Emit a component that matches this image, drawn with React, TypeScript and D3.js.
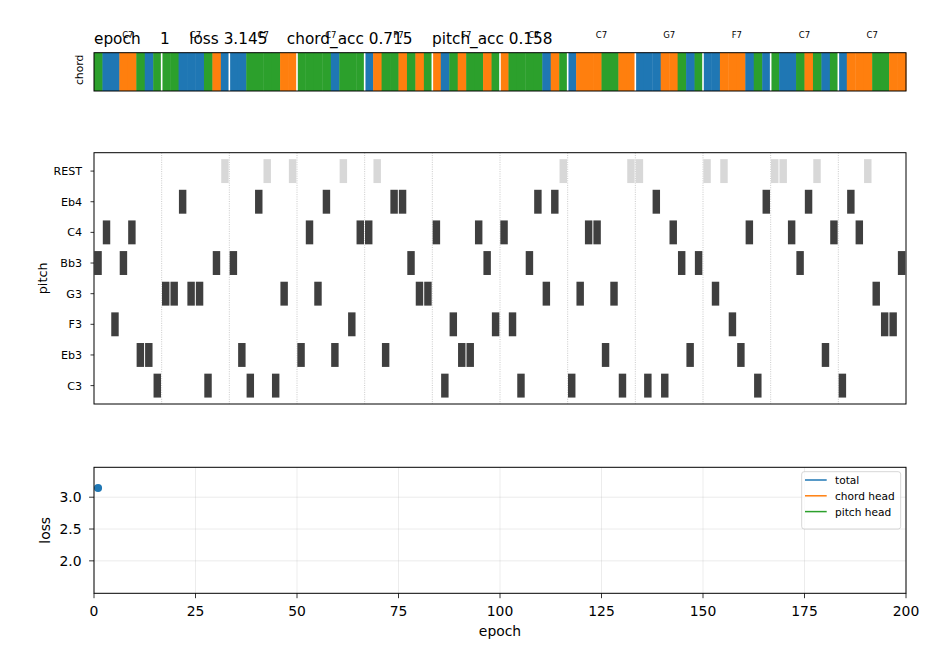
import React from "react";
import * as d3 from "d3";

// ---------- data ----------
const BAR_CHORDS = ["C7", "C7", "C7", "C7", "F7", "F7", "C7", "C7", "G7", "F7", "C7", "C7"];
const STEPS_PER_BAR = 8;
const CHORD_VOCAB = ["C7", "F7", "G7"];
const CHORD_COLORS = ["#1f77b4", "#ff7f0e", "#2ca02c"];

// predicted chord per step (96 steps)
const PRED_CHORDS: string[] = [
  "G7","C7","C7","F7","F7","G7","C7","G7",
  "G7","G7","C7","C7","C7","G7","F7","C7",
  "C7","C7","G7","G7","G7","G7","F7","F7",
  "G7","G7","G7","G7","C7","G7","G7","G7",
  "C7","F7","G7","G7","F7","G7","F7","G7",
  "F7","C7","G7","F7","G7","G7","F7","G7",
  "F7","G7","G7","G7","G7","C7","F7","G7",
  "C7","F7","F7","F7","G7","G7","F7","F7",
  "C7","C7","C7","F7","F7","G7","C7","G7",
  "C7","C7","F7","F7","F7","C7","G7","C7",
  "G7","C7","C7","G7","F7","G7","C7","G7",
  "C7","F7","F7","F7","G7","G7","F7","F7",
];

const PITCHES = ["C3", "Eb3", "F3", "G3", "Bb3", "C4", "Eb4", "REST"]; // bottom -> top

// predicted pitch per step (96 steps)
const PRED_PITCHES: string[] = [
  "Bb3","C4","F3","Bb3","C4","Eb3","Eb3","C3",
  "G3","G3","Eb4","G3","G3","C3","Bb3","REST",
  "Bb3","Eb3","C3","Eb4","REST","C3","G3","REST",
  "Eb3","C4","G3","Eb4","Eb3","REST","F3","C4",
  "C4","REST","Eb3","Eb4","Eb4","Bb3","G3","G3",
  "C4","C3","F3","Eb3","Eb3","C4","Bb3","F3",
  "C4","F3","C3","Bb3","Eb4","G3","Eb4","REST",
  "C3","G3","C4","C4","Eb3","G3","C3","REST",
  "REST","C3","Eb4","C3","C4","Bb3","Eb3","Bb3",
  "REST","G3","REST","F3","Eb3","C4","C3","Eb4",
  "REST","REST","C4","Bb3","Eb4","REST","Eb3","C4",
  "C3","Eb4","C4","REST","G3","F3","F3","Bb3",
];

const EPOCH = 1;
const LOSS = 3.145;
const CHORD_ACC = 0.715;
const PITCH_ACC = 0.158;

const EPOCHS = [1];
const TOTAL_LOSS = [3.145];
const CHORD_LOSS: number[] = [];
const PITCH_LOSS: number[] = [];
const LOSS_XTICKS = [0, 25, 50, 75, 100, 125, 150, 175, 200];
const LOSS_YTICKS = [2.0, 2.5, 3.0];

// ---------- layout ----------
const W = 934, H = 659;
const L = 94, R = 906;
const chordTop = 52.7, chordBot = 91;
const pianoTop = 152.7, pianoBot = 404;
const lossTop = 467.3, lossBot = 593.3;
const FONT = "DejaVu Sans";

export default function App() {
  const nSteps = PRED_CHORDS.length;
  const nBars = BAR_CHORDS.length;
  const xs = d3.scaleLinear().domain([0, nSteps]).range([L, R]);
  const yp = d3.scaleLinear().domain([-0.6, PITCHES.length - 1 + 0.6]).range([pianoBot, pianoTop]);
  const color = d3.scaleOrdinal<string, string>().domain(CHORD_VOCAB).range(CHORD_COLORS);
  const xl = d3.scaleLinear().domain([0, 200]).range([L, R]);
  const yl = d3.scaleLinear().domain([1.49, 3.47]).range([lossBot, lossTop]);
  const barIdx = d3.range(1, nBars);
  const stepW = xs(1) - xs(0);
  const noteH = yp(0) - yp(0.78);

  const lineGen = d3.line<number>().x((_, i) => xl(EPOCHS[i])).y((v) => yl(v));

  const title = `epoch ${String(EPOCH).padStart(4, " ")}    loss ${LOSS.toFixed(3)}    chord_acc ${CHORD_ACC.toFixed(3)}    pitch_acc ${PITCH_ACC.toFixed(3)}`;

  const legendItems = [
    { label: "total", color: "#1f77b4" },
    { label: "chord head", color: "#ff7f0e" },
    { label: "pitch head", color: "#2ca02c" },
  ];

  return (
    <svg width={W} height={H} style={{ position: "fixed", left: 0, top: 0, background: "#fff" }} fontFamily={FONT}>
      <rect x={0} y={0} width={W} height={H} fill="#fff" />
      {/* ---------- chord strip ---------- */}
      {PRED_CHORDS.map((c, i) => (
        <rect key={"c" + i} x={xs(i)} y={chordTop} width={stepW + 0.4} height={chordBot - chordTop} fill={color(c)} />
      ))}
      {barIdx.map((b) => (
        <line key={"cw" + b} x1={xs(b * STEPS_PER_BAR)} x2={xs(b * STEPS_PER_BAR)} y1={chordTop} y2={chordBot} stroke="#fff" strokeWidth={1.6} />
      ))}
      <rect x={L} y={chordTop} width={R - L} height={chordBot - chordTop} fill="none" stroke="#000" strokeWidth={1} />
      {BAR_CHORDS.map((c, b) => (
        <text key={"cl" + b} x={xs((b + 0.5) * STEPS_PER_BAR)} y={37.5} fontSize={8.5} textAnchor="middle" fill="#000">{c}</text>
      ))}
      <text x={L} y={44} fontSize={15.3} fill="#000" style={{ whiteSpace: "pre" }}>{title}</text>
      <text transform={`translate(83,${(chordTop + chordBot) / 2 - 2}) rotate(-90)`} fontSize={10.8} textAnchor="middle" fill="#000">chord</text>

      {/* ---------- piano roll ---------- */}
      {barIdx.map((b) => (
        <line key={"pv" + b} x1={xs(b * STEPS_PER_BAR)} x2={xs(b * STEPS_PER_BAR)} y1={pianoTop} y2={pianoBot} stroke="#bdbdbd" strokeWidth={0.8} strokeDasharray="1 1.3" />
      ))}
      {PRED_PITCHES.map((p, i) => {
        const r = PITCHES.indexOf(p);
        const isRest = p === "REST";
        return (
          <rect key={"n" + i} x={xs(i) + stepW * 0.04} y={yp(r) - noteH / 2} width={stepW * 0.88} height={noteH}
            fill={isRest ? "#d6d6d6" : "#3f3f3f"} opacity={isRest ? 0.95 : 1} />
        );
      })}
      <rect x={L} y={pianoTop} width={R - L} height={pianoBot - pianoTop} fill="none" stroke="#000" strokeWidth={1} />
      {PITCHES.map((p, r) => (
        <g key={"pt" + r}>
          <line x1={L - 3.5} x2={L} y1={yp(r)} y2={yp(r)} stroke="#000" strokeWidth={0.8} />
          <text x={L - 12} y={yp(r) + 4} fontSize={11.1} textAnchor="end" fill="#000">{p}</text>
        </g>
      ))}
      <text transform={`translate(47,${(pianoTop + pianoBot) / 2}) rotate(-90)`} fontSize={12.8} textAnchor="middle" fill="#000">pitch</text>

      {/* ---------- loss panel ---------- */}
      {LOSS_XTICKS.map((t) => (
        <line key={"gx" + t} x1={xl(t)} x2={xl(t)} y1={lossTop} y2={lossBot} stroke="#b0b0b0" strokeOpacity={0.3} strokeWidth={0.8} />
      ))}
      {LOSS_YTICKS.map((t) => (
        <line key={"gy" + t} x1={L} x2={R} y1={yl(t)} y2={yl(t)} stroke="#b0b0b0" strokeOpacity={0.3} strokeWidth={0.8} />
      ))}
      <path d={lineGen(TOTAL_LOSS) || ""} fill="none" stroke="#1f77b4" strokeWidth={1.5} />
      <path d={lineGen(CHORD_LOSS) || ""} fill="none" stroke="#ff7f0e" strokeWidth={1.5} />
      <path d={lineGen(PITCH_LOSS) || ""} fill="none" stroke="#2ca02c" strokeWidth={1.5} />
      {TOTAL_LOSS.map((v, i) => (
        <circle key={"pt" + i} cx={xl(EPOCHS[i])} cy={yl(v)} r={4} fill="#1f77b4" />
      ))}
      <rect x={L} y={lossTop} width={R - L} height={lossBot - lossTop} fill="none" stroke="#000" strokeWidth={1} />
      {LOSS_XTICKS.map((t) => (
        <g key={"xt" + t}>
          <line x1={xl(t)} x2={xl(t)} y1={lossBot} y2={lossBot + 4.9} stroke="#000" strokeWidth={0.8} />
          <text x={xl(t)} y={616} fontSize={13.9} textAnchor="middle" fill="#000">{t}</text>
        </g>
      ))}
      {LOSS_YTICKS.map((t) => (
        <g key={"yt" + t}>
          <line x1={L - 4.9} x2={L} y1={yl(t)} y2={yl(t)} stroke="#000" strokeWidth={0.8} />
          <text x={L - 12.5} y={yl(t) + 5} fontSize={13.9} textAnchor="end" fill="#000">{t.toFixed(1)}</text>
        </g>
      ))}
      <text x={(L + R) / 2} y={636} fontSize={13.9} textAnchor="middle" fill="#000">epoch</text>
      <text transform={`translate(49.5,${(lossTop + lossBot) / 2}) rotate(-90)`} fontSize={13.9} textAnchor="middle" fill="#000">loss</text>

      {/* legend */}
      <rect x={801.7} y={471.7} width={99} height={57.3} rx={2.5} fill="#fff" fillOpacity={0.8} stroke="#cccccc" strokeWidth={0.8} />
      {legendItems.map((it, i) => {
        const y = 480 + i * 15.8;
        return (
          <g key={"lg" + i}>
            <line x1={805} x2={826.7} y1={y} y2={y} stroke={it.color} strokeWidth={1.5} />
            <text x={835} y={y + 3.9} fontSize={10.6} fill="#000">{it.label}</text>
          </g>
        );
      })}
    </svg>
  );
}
